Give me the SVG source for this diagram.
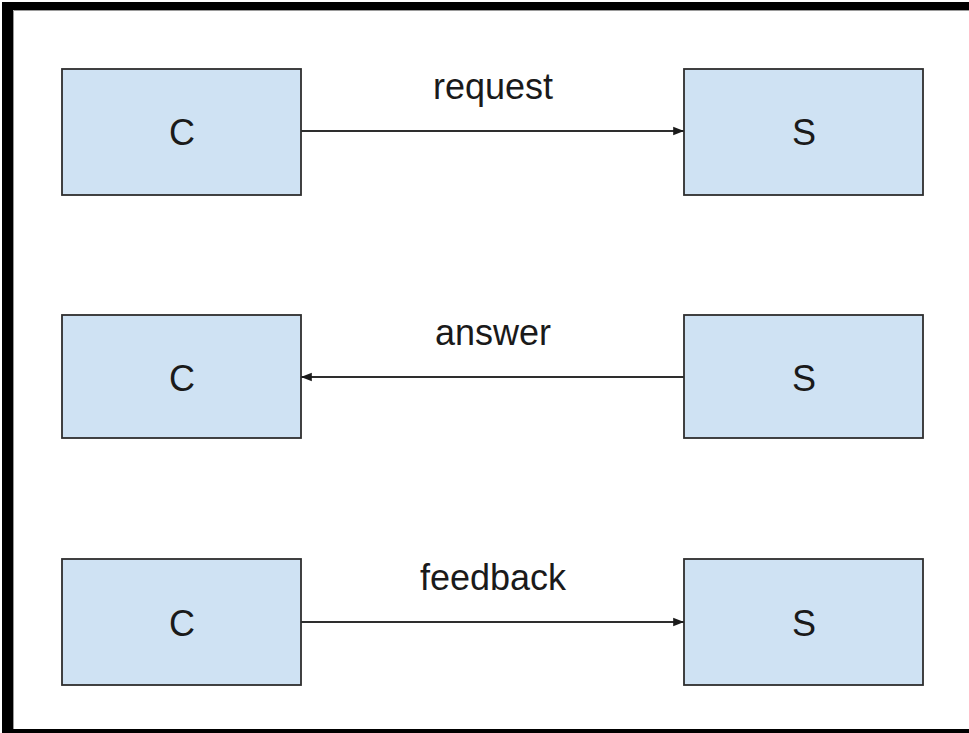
<svg xmlns="http://www.w3.org/2000/svg" width="969" height="733" viewBox="0 0 969 733">
  <style>
    .box { fill: #cfe2f3; stroke: #2e2e2e; stroke-width: 1.8; }
    .lbl { font-family: "Liberation Sans", Arial, sans-serif; font-size: 36px; fill: #1a1a1a; text-anchor: middle; }
    .msg { font-family: "Liberation Sans", Arial, sans-serif; font-size: 36px; fill: #1a1a1a; text-anchor: middle; }
    .conn { stroke: #2e2e2e; stroke-width: 1.8; fill: none; }
  </style>
  <defs>
    <marker id="arrow" viewBox="0 0 10 10" refX="10" refY="5" markerWidth="6" markerHeight="6" markerUnits="strokeWidth" orient="auto">
      <path d="M0,1 L10,5 L0,9 Z" fill="#1a1a1a"/>
    </marker>
  </defs>

  <rect x="0" y="0" width="969" height="733" fill="#ffffff"/>

  <!-- frame -->
  <g id="frame">
    <rect x="2" y="2" width="967" height="8" fill="#000"/>
    <rect x="2" y="2" width="11" height="731" fill="#000"/>
    <rect x="2" y="729" width="967" height="4" fill="#000"/>
    <line x1="13.5" y1="10.5" x2="969" y2="10.5" stroke="#9a9a9a" stroke-width="1"/>
    <line x1="13.5" y1="10.5" x2="13.5" y2="729" stroke="#9a9a9a" stroke-width="1"/>
  </g>

  <g id="c1"><rect class="box" x="62" y="69" width="239" height="126"/><text class="lbl" x="182" y="145">C</text></g>
  <g id="s1"><rect class="box" x="684" y="69" width="239" height="126"/><text class="lbl" x="804" y="145">S</text></g>
  <g id="c2"><rect class="box" x="62" y="315" width="239" height="123"/><text class="lbl" x="182" y="391">C</text></g>
  <g id="s2"><rect class="box" x="684" y="315" width="239" height="123"/><text class="lbl" x="804" y="391">S</text></g>
  <g id="c3"><rect class="box" x="62" y="559" width="239" height="126"/><text class="lbl" x="182" y="636">C</text></g>
  <g id="s3"><rect class="box" x="684" y="559" width="239" height="126"/><text class="lbl" x="804" y="636">S</text></g>

  <g id="connectors">
    <line class="conn" x1="301" y1="131" x2="684" y2="131" marker-end="url(#arrow)"/>
    <text class="msg" x="493" y="99">request</text>
    <line class="conn" x1="684" y1="377" x2="301" y2="377" marker-end="url(#arrow)"/>
    <text class="msg" x="493" y="345">answer</text>
    <line class="conn" x1="301" y1="622" x2="684" y2="622" marker-end="url(#arrow)"/>
    <text class="msg" x="493" y="590">feedback</text>
  </g>
</svg>
